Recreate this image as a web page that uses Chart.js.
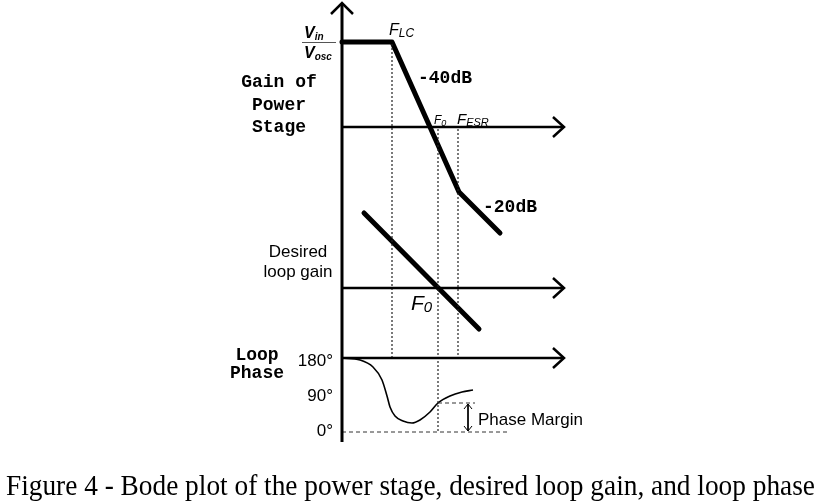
<!DOCTYPE html>
<html>
<head>
<meta charset="utf-8">
<script src="https://cdn.jsdelivr.net/npm/chart.js@4.4.0/dist/chart.umd.min.js"></script>
<style>
  html, body { margin: 0; padding: 0; background: #fff; }
  #wrap { width: 822px; height: 503px; position: relative; }
</style>
</head>
<body>
<div id="wrap"><canvas id="bode"></canvas></div>
<script>
// diagram units: x = frequency position, y = vertical position (top down), same scale as the figure
const axisX = 342;
const axisEnd = 564;
const gainAxisY = 127;
const loopAxisY = 288;
const phaseAxisY = 358;
const zeroDegY = 432;

const fLC = 392, f0 = 438, fESR = 458;

// power stage gain: flat, -40dB, -20dB
const powerStage = [
    { x: 342, y: 42 }, { x: 392, y: 42 }, { x: 459, y: 192 }, { x: 500, y: 233 }
];
// desired loop gain (-20dB through F0)
const desiredLoop = [ { x: 364, y: 213 }, { x: 479, y: 329 } ];
// loop phase curve (180° at axis)
const loopPhase = [
    { x: 342, y: 358 }, { x: 360, y: 360 }, { x: 373, y: 367 }, { x: 382, y: 380 },
    { x: 387, y: 396 }, { x: 390, y: 407 }, { x: 395, y: 416 }, { x: 403, y: 421 },
    { x: 412, y: 423 }, { x: 420, y: 420 }, { x: 430, y: 412 }, { x: 438, y: 403 },
    { x: 450, y: 396 }, { x: 462, y: 392 }, { x: 473, y: 390 }
];
const phaseMarginY = 403;

// dotted frequency markers [x, yTop, yBottom]
const markers = [ [fLC, 44, phaseAxisY], [f0, 129, zeroDegY], [fESR, 129, phaseAxisY] ];

function seg(a, b) { return [ { x: a[0], y: a[1] }, { x: b[0], y: b[1] } ]; }
function chevron(tx, ty, dx, dy, len, spread) {
    // open arrow head pointing along (dx,dy)
    return [
        { x: tx - dx * len - dy * spread, y: ty - dy * len - dx * spread },
        { x: tx, y: ty },
        { x: tx - dx * len + dy * spread, y: ty - dy * len + dx * spread }
    ];
}

const black = '#000';
const datasets = [];
function addLine(data, width, opts) {
    datasets.push(Object.assign({
        data: data, showLine: true, borderColor: black, borderWidth: width,
        pointRadius: 0, fill: false, clip: false, tension: 0
    }, opts || {}));
}

// axes
addLine(seg([axisX, 442], [axisX, 3]), 3);
addLine(chevron(axisX, 3, 0, -1, 11, 11), 2.5);
[gainAxisY, loopAxisY, phaseAxisY].forEach(function (y) {
    addLine(seg([axisX, y], [axisEnd, y]), 2.5);
    addLine(chevron(axisEnd, y, 1, 0, 11, 10), 2.5);
});
// markers
markers.forEach(function (m) {
    addLine(seg([m[0], m[1]], [m[0], m[2]]), 1.2, { borderDash: [2, 2], borderColor: '#222' });
});
// phase references
addLine(seg([axisX, zeroDegY], [510, zeroDegY]), 1, { borderDash: [4, 3], borderColor: '#333' });
addLine(seg([f0, phaseMarginY], [475, phaseMarginY]), 1, { borderDash: [4, 3], borderColor: '#333' });
// phase margin arrow
addLine(seg([468, phaseMarginY + 1], [468, zeroDegY - 1]), 1);
addLine(chevron(468, phaseMarginY + 1, 0, -1, 5, 4), 1);
addLine(chevron(468, zeroDegY - 1, 0, 1, 5, 4), 1);
// curves
addLine(powerStage, 5, { borderCapStyle: 'round', borderJoinStyle: 'round' });
addLine(desiredLoop, 5, { borderCapStyle: 'round' });
addLine(loopPhase, 1.6, { cubicInterpolationMode: 'monotone' });

// text labels [text, sub, x, y, font, subFont, align]
const mono = 'bold 18px "Liberation Mono"';
const sans = '17px "Liberation Sans"';
const labels = [
    ['Gain of', '', 279, 87, mono, '', 'center'],
    ['Power', '', 279, 110, mono, '', 'center'],
    ['Stage', '', 279, 132, mono, '', 'center'],
    ['-40dB', '', 418, 83, mono, '', 'left'],
    ['-20dB', '', 483, 212, mono, '', 'left'],
    ['Loop', '', 257, 360, mono, '', 'center'],
    ['Phase', '', 257, 378, mono, '', 'center'],
    ['Desired', '', 298, 257, sans, '', 'center'],
    ['loop gain', '', 298, 277, sans, '', 'center'],
    ['180°', '', 333, 366, sans, '', 'right'],
    ['90°', '', 333, 401, sans, '', 'right'],
    ['0°', '', 333, 436, sans, '', 'right'],
    ['Phase Margin', '', 478, 425, sans, '', 'left'],
    ['F', 'LC', 389, 35, 'italic 16px "Liberation Sans"', 'italic 12px "Liberation Sans"', 'left'],
    ['F', '0', 434, 124, 'italic 12px "Liberation Sans"', 'italic 9px "Liberation Sans"', 'left'],
    ['F', 'ESR', 457, 124, 'italic 15px "Liberation Sans"', 'italic 11px "Liberation Sans"', 'left'],
    ['F', '0', 411, 310, 'italic 21px "Liberation Sans"', 'italic 15px "Liberation Sans"', 'left'],
    ['V', 'in', 304, 38, 'bold italic 16px "Liberation Sans"', 'bold italic 10px "Liberation Sans"', 'left'],
    ['V', 'osc', 304, 58, 'bold italic 16px "Liberation Sans"', 'bold italic 10px "Liberation Sans"', 'left']
];
const caption = 'Figure 4 - Bode plot of the power stage, desired loop gain, and loop phase';

const textPlugin = {
    id: 'diagramText',
    afterDatasetsDraw(chart) {
        const ctx = chart.ctx, sx = chart.scales.x, sy = chart.scales.y;
        ctx.save();
        ctx.fillStyle = black;
        ctx.textBaseline = 'alphabetic';
        labels.forEach(function (l) {
            const px = sx.getPixelForValue(l[2]), py = sy.getPixelForValue(l[3]);
            ctx.font = l[4];
            ctx.textAlign = l[6];
            ctx.fillText(l[0], px, py);
            if (l[1]) {
                const w = ctx.measureText(l[0]).width;
                ctx.font = l[5];
                ctx.textAlign = 'left';
                ctx.fillText(l[1], px + w, py + 2);
            }
        });
        // fraction bar for Vin/Vosc
        ctx.strokeStyle = '#555';
        ctx.lineWidth = 1;
        ctx.beginPath();
        ctx.moveTo(sx.getPixelForValue(302), sy.getPixelForValue(42.5));
        ctx.lineTo(sx.getPixelForValue(336), sy.getPixelForValue(42.5));
        ctx.stroke();
        // caption, squeezed to the figure width
        ctx.font = '29px "Liberation Serif"';
        const cw = ctx.measureText(caption).width;
        const target = sx.getPixelForValue(815) - sx.getPixelForValue(6);
        ctx.translate(sx.getPixelForValue(6), sy.getPixelForValue(495));
        ctx.scale(target / cw, 1);
        ctx.textAlign = 'left';
        ctx.fillText(caption, 0, 0);
        ctx.restore();
    }
};

new Chart(document.getElementById('bode'), {
    type: 'scatter',
    data: { datasets: datasets },
    options: {
        responsive: true,
        maintainAspectRatio: false,
        animation: false,
        layout: { padding: 0 },
        plugins: { legend: { display: false }, tooltip: { enabled: false } },
        scales: {
            x: { type: 'linear', min: 0, max: 822, display: false },
            y: { type: 'linear', min: 0, max: 503, reverse: true, display: false }
        }
    },
    plugins: [textPlugin]
});
</script>
</body>
</html>
